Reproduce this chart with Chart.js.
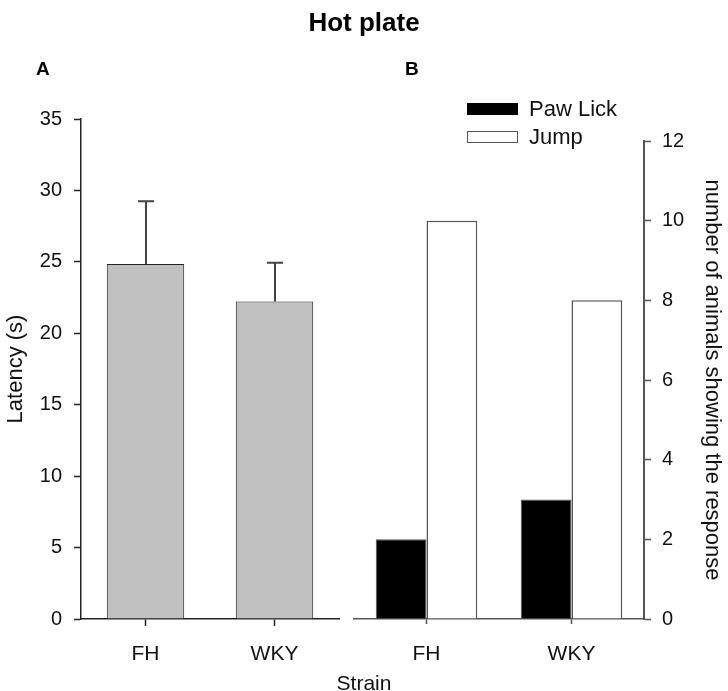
<!DOCTYPE html>
<html>
<head>
<meta charset="utf-8">
<script src="https://cdn.jsdelivr.net/npm/chart.js@4"></script>
<style>
  body { margin: 0; background: #fff; font-family: "Liberation Sans", Arial, sans-serif; }
  #wrap { position: relative; width: 728px; height: 691px; }
  canvas { position: absolute; top: 0; }
  .lbl { position: absolute; color: #000; white-space: nowrap; }
  .legend-row { position: absolute; left: 467px; height: 14px; width: 200px; }
  .legend-row span.box { position: absolute; left: 0; top: 0; width: 51px; height: 12px; box-sizing: border-box; }
  .legend-row span.txt { position: absolute; left: 62px; top: -7px; font-size: 22px; white-space: nowrap; color: #111; }
</style>
</head>
<body>
<div id="wrap">
  <canvas id="chartA" width="346" height="691" style="left:0"></canvas>
  <canvas id="chartB" width="382" height="691" style="left:346px"></canvas>
  <div class="lbl" style="left:0;width:728px;text-align:center;top:7px;font-size:26px;font-weight:bold;">Hot plate</div>
  <div class="lbl" style="left:36px;top:58px;font-size:19px;font-weight:bold;">A</div>
  <div class="lbl" style="left:405px;top:58px;font-size:19px;font-weight:bold;">B</div>
  <div class="lbl" style="left:0;width:728px;text-align:center;top:671px;font-size:21px;color:#111;">Strain</div>
  <div id="legend"></div>
</div>
<script>
// 데이터
const strains = ['FH', 'WKY'];
const latency = [24.85, 22.23];
const latencyErr = [4.4, 2.7];
const pawLick = [2, 3];
const jump = [10, 8];

const fontFamily = '"Liberation Sans", Arial, sans-serif';
Chart.defaults.font.family = fontFamily;
Chart.defaults.color = '#111';

// 오차 막대 (위쪽만)
const errorBars = {
    id: 'errorBars',
    afterDatasetsDraw(chart) {
        const meta = chart.getDatasetMeta(0);
        const y = chart.scales.y;
        const c = chart.ctx;
        c.save();
        c.strokeStyle = '#444';
        c.lineWidth = 2;
        meta.data.forEach((bar, i) => {
            const top = y.getPixelForValue(latency[i] + latencyErr[i]);
            const x = Math.round(bar.x);
            c.beginPath();
            c.moveTo(x, bar.y);
            c.lineTo(x, top);
            c.moveTo(x - 8, top);
            c.lineTo(x + 8, top);
            c.stroke();
        });
        c.restore();
    }
};

new Chart(document.getElementById('chartA'), {
    type: 'bar',
    data: {
        labels: strains,
        datasets: [{
            label: 'Latency',
            data: latency,
            backgroundColor: '#c0c0c0',
            borderColor: '#222',
            borderWidth: 1,
            categoryPercentage: 1,
            barPercentage: 0.6
        }]
    },
    options: {
        responsive: false,
        devicePixelRatio: 1,
        animation: false,
        layout: { padding: { top: 119, right: 7, left: 0, bottom: 0 } },
        plugins: { legend: { display: false }, tooltip: { enabled: false } },
        scales: {
            x: {
                grid: { offset: false, drawOnChartArea: false, tickLength: 7, color: '#222', tickWidth: 1.5 },
                border: { color: '#222', width: 1.5 },
                ticks: { font: { size: 21 }, padding: 16, color: '#111' },
                afterFit(s) { s.height = 72; }
            },
            y: {
                min: 0, max: 35,
                ticks: { stepSize: 5, font: { size: 20 }, padding: 12, color: '#111' },
                grid: { drawOnChartArea: false, tickLength: 7, color: '#222', tickWidth: 1.5 },
                border: { color: '#222', width: 1.5 },
                title: { display: true, text: 'Latency (s)', font: { size: 22 }, color: '#111', padding: { top: 3, bottom: 0 } },
                afterFit(s) { s.width = 81; }
            }
        }
    },
    plugins: [errorBars]
});

const chartB = new Chart(document.getElementById('chartB'), {
    type: 'bar',
    data: {
        labels: strains,
        datasets: [{
            label: 'Paw Lick',
            data: pawLick,
            backgroundColor: '#000',
            borderColor: '#555',
            borderWidth: 1,
            categoryPercentage: 0.7,
            barPercentage: 1
        }, {
            label: 'Jump',
            data: jump,
            backgroundColor: '#fff',
            borderColor: '#555',
            borderWidth: 1.5,
            categoryPercentage: 0.7,
            barPercentage: 1
        }]
    },
    options: {
        responsive: false,
        devicePixelRatio: 1,
        animation: false,
        layout: { padding: { top: 141, right: 0, left: 8, bottom: 0 } },
        plugins: { legend: { display: false }, tooltip: { enabled: false } },
        scales: {
            x: {
                grid: { offset: false, drawOnChartArea: false, tickLength: 5, color: '#555', tickWidth: 1.5 },
                border: { color: '#555', width: 1.5 },
                ticks: { font: { size: 21 }, padding: 18, color: '#111' },
                afterFit(s) { s.height = 72; }
            },
            y: {
                position: 'right',
                min: 0, max: 12,
                ticks: { stepSize: 2, font: { size: 20 }, padding: 11, color: '#111' },
                grid: { drawOnChartArea: false, tickLength: 7, color: '#555', tickWidth: 1.5 },
                border: { color: '#555', width: 2 },
                title: { display: true, text: 'number of animals showing the response', font: { size: 22 }, color: '#111', padding: { top: 3, bottom: 0 } },
                afterFit(s) { s.width = 84; }
            }
        }
    }
});

// 범례
const legendEl = document.getElementById('legend');
chartB.data.datasets.forEach((ds, i) => {
    const row = document.createElement('div');
    row.className = 'legend-row';
    row.style.top = (103 + i * 28) + 'px';
    row.innerHTML = '<span class="box" style="background:' + ds.backgroundColor + ';border:1.5px solid ' + (i ? '#555' : '#000') + '"></span><span class="txt">' + ds.label + '</span>';
    legendEl.appendChild(row);
});
</script>
</body>
</html>
